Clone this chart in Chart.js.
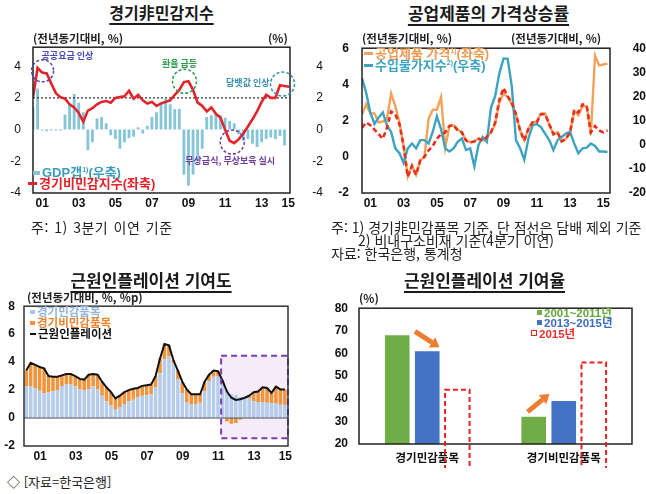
<!DOCTYPE html>
<html lang="ko">
<head>
<meta charset="utf-8">
<title>경기非민감지수</title>
<script src="https://cdn.jsdelivr.net/npm/chart.js@4.4.1/dist/chart.umd.min.js"></script>
<style>
html, body { margin: 0; padding: 0; background: #fff; }
body { position: relative; width: 646px; height: 494px; overflow: hidden; color: #111;
  font-family: "Noto Sans CJK KR", "Liberation Sans", sans-serif; }
canvas { position: absolute; }
.t { position: absolute; white-space: nowrap; line-height: 1; }
.title { font-size: 17px; font-weight: 700; text-align: center; color: #1a1a1a;
  text-decoration: underline; text-decoration-thickness: 1.5px; text-underline-offset: 4px; }
.unit { font-size: 11.5px; font-weight: 700; color: #222; }
.leg { font-size: 13px; font-weight: 700; font-family: "Liberation Sans", "Noto Sans CJK KR", sans-serif; }
.note { font-size: 14px; color: #222; }
.mk { display: inline-block; vertical-align: middle; margin-right: 2px; position: relative; top: -1px; }
sup { font-size: 7px; vertical-align: 5px; line-height: 0; }
</style>
</head>
<body>
<canvas id="c1" width="323" height="190" style="left:0;top:28px"></canvas>
<canvas id="c2" width="323" height="190" style="left:323px;top:28px"></canvas>
<canvas id="c3" width="323" height="175" style="left:0;top:290px"></canvas>
<canvas id="c4" width="323" height="178" style="left:323px;top:290px"></canvas>

<!-- 경기非민감지수 -->
<div class="t title" style="left:0;top:4px;width:323px;font-size:16px">경기非민감지수</div>
<div class="t unit" style="left:33px;top:33px">(전년동기대비, %)</div>
<div class="t unit" style="left:268px;top:33px">(%)</div>
<div class="t leg" style="left:33px;top:166px;color:#3a9dbf"><span class="mk" style="width:7px;height:4px;background:#86c5d8"></span>GDP갭<sup>1)</sup>(우축)</div>
<div class="t leg" style="left:28px;top:177px;color:#e3242b"><span class="mk" style="width:9px;height:2.5px;background:#e3242b"></span>경기비민감지수(좌축)</div>
<div class="t note" style="left:31px;top:220px;letter-spacing:0.5px;word-spacing:1px">주: 1) 3분기 이연 기준</div>

<!-- 공업제품의 가격상승률 -->
<div class="t title" style="left:327px;top:4px;width:323px">공업제품의 가격상승률</div>
<div class="t unit" style="left:362px;top:33px">(전년동기대비, %)</div>
<div class="t unit" style="left:511px;top:33px">(전년동기대비, %)</div>
<div class="t leg" style="left:364px;top:47px;color:#ef9a52"><span class="mk" style="width:9px;height:2.5px;background:#f4a15a"></span>공업제품 가격<sup>1)</sup>(좌축)</div>
<div class="t leg" style="left:364px;top:59px;color:#3ea3bf"><span class="mk" style="width:9px;height:2.5px;background:#3ea3bf"></span>수입물가지수<sup>2)</sup>(우축)</div>
<div class="t note" style="left:331px;top:220px">주: 1) 경기非민감품목 기준, 단 점선은 담배 제외 기준</div>
<div class="t note" style="left:358px;top:233px">2) 비내구소비재 기준(4분기 이연)</div>
<div class="t note" style="left:331px;top:246px">자료: 한국은행, 통계청</div>

<!-- 근원인플레이션 기여도 -->
<div class="t title" style="left:0;top:271px;width:302px">근원인플레이션 기여도</div>
<div class="t unit" style="left:27px;top:292px">(전년동기대비, %, %p)</div>
<div class="t leg" style="left:30px;top:307px;font-size:11.5px;color:#93b6e0"><span class="mk" style="width:5px;height:4px;background:#a9c6e8"></span>경기민감품목</div>
<div class="t leg" style="left:30px;top:318px;font-size:11.5px;color:#ea8430"><span class="mk" style="width:5px;height:4px;background:#f0953e"></span>경기비민감품목</div>
<div class="t leg" style="left:30px;top:329px;font-size:11.5px;color:#111"><span class="mk" style="width:6px;height:2px;background:#111"></span>근원인플레이션</div>
<div class="t note" style="left:7px;top:475px;font-size:13px">◇ [자료=한국은행]</div>

<!-- 근원인플레이션 기여율 -->
<div class="t title" style="left:323px;top:271px;width:323px">근원인플레이션 기여율</div>
<div class="t unit" style="left:359px;top:293px">(%)</div>
<div class="t leg" style="left:537px;top:308px;font-size:11.5px;color:#62a83a"><span class="mk" style="width:5px;height:5px;background:#70ad47"></span>2001~2011년</div>
<div class="t leg" style="left:537px;top:318px;font-size:11.5px;color:#3b6cc0"><span class="mk" style="width:5px;height:5px;background:#4472c4"></span>2013~2015년</div>
<div class="t leg" style="left:531px;top:328.5px;font-size:11.5px;color:#e8322b"><span class="mk" style="width:4px;height:4px;border:1.5px dashed #f02020"></span>2015년</div>

<script>
// ---- data ------------------------------------------------------------
const yearLabels = ['01', '03', '05', '07', '09', '11', '13', '15'];
const labelYears = [2001, 2003, 2005, 2007, 2009, 2011, 2013, 2015];

// 경기非민감지수, 분기 (2001.1Q~)
const p1Index = [2.0, 3.9, 3.6, 3.55, 2.9, 2.3, 2.05, 1.95, 1.6, 1.4,
  1.05, 0.5, 1.2, 1.35, 1.6, 1.75, 1.8, 1.7, 2.0, 2.05,
  2.1, 2.45, 1.95, 2.2, 1.85, 1.65, 1.75, 1.5, 1.65, 1.75,
  1.85, 2.2, 2.5, 3.0, 3.05, 2.5, 1.7, 1.5, 1.15, 1.4,
  1.0, 0.75, 0.0, -0.7, -0.85, -0.6, -0.25, 0.2, 0.65, 1.15,
  1.75, 2.2, 2.0, 2.0, 2.8, 2.75, 2.7];
const p1Gap = [1.45, 2.6, -0.05, -0.1, -0.05, -0.05, -0.05, 0.95, 1.6, 2.25,
  1.7, 1.1, -1.3, -0.8, 0.7, 0.8, 0.4, -0.35, -0.6, -1.2,
  -0.8, -0.55, -0.45, 0.15, -0.25, 0.25, 0.8, 1.1, 1.7, 1.95,
  1.6, 1.3, 1.3, -2.85, -3.55, -2.85, -2.0, -1.2, 0.8, 0.9,
  1.0, 0.9, 0.75, 0.55, 0.4, -0.3, -0.7, -0.6, -0.9, -1.1,
  -0.8, -0.6, -0.5, -0.6, -0.4, -1.0, null];
const p1Ref = 2;

// 공업제품의 가격상승률, 분기 (2001.1Q~)
const p2Goods = [2.35, 2.9, 2.4, 2.4, 1.9, 1.95, 2.1, 3.5, 2.8, 1.9,
  0.6, -1.1, -0.5, -1.0, -0.2, 0.0, 2.1, 2.6, 2.6, 3.3,
  0.5, 1.7, 1.75, 1.5, 1.35, 0.9, 0.8, 0.85, 1.0, 0.9,
  1.1, 1.35, 1.8, 3.0, 3.5, 3.3, 2.9, 2.35, 1.45, 0.9,
  1.55, 1.9, 1.95, 2.4, 2.4, 1.8, 1.25, 1.35, 0.85, 1.0,
  1.3, 2.5, 2.3, 2.8, 2.8, 1.25, 5.6, 5.05, 5.1, 5.15];
const p2GoodsExTobacco = [1.6, 1.9, 1.75, 1.5, 1.25, 1.0, 1.6, 2.5, 2.35, 1.8,
  0.6, -1.1, -0.5, -1.0, -0.2, 0.0, 0.35, 0.6, 1.0, 1.25,
  1.35, 1.7, 1.75, 1.45, 1.35, 0.9, 0.8, 0.85, 1.0, 0.9,
  1.1, 1.35, 1.9, 3.15, 3.8, 3.35, 3.0, 2.35, 1.45, 0.9,
  1.55, 1.9, 1.9, 2.35, 2.35, 1.8, 1.25, 1.35, 0.85, 1.0,
  1.35, 2.6, 2.45, 2.9, 2.8, 1.35, 1.7, 1.45, 1.35, 1.45];
const p2Import = [27.5, 21.5, 13.4, 8.6, 11.3, 13.4, 8.0, 5.3, -1.5, -3.5,
  -7.5, -1.5, 0.5, -1.5, 1.9, 1.9, 0.5, 5.3, 11.8, 6.4,
  -1.5, -2.8, -1.5, 1.2, 2.6, -2.2, -1.5, -8.9, -0.1, 3.2,
  1.2, 15.4, 20.1, 29.6, 35.7, 35.7, 24.2, 1.9, -1.5, -6.2,
  2.6, 8.0, 8.6, 7.3, 4.6, 1.9, -2.2, 1.9, 3.2, 4.6,
  5.3, 0.5, -3.5, -1.5, -1.2, 0.5, -0.5, -2.8, -2.8, -3.0];

// 근원인플레이션 기여도, 분기 (2000.3Q~)
const p3Sensitive = [2.25, 2.3, 2.15, 1.95, 1.75, 1.85, 1.9, 2.0, 2.3, 2.4,
  2.4, 2.25, 2.05, 2.0, 2.05, 2.25, 2.05, 1.6, 1.2, 0.9,
  0.6, 0.75, 1.0, 1.2, 1.3, 1.5, 1.6, 1.65, 1.7, 2.2,
  3.2, 4.2, 4.4, 3.9, 2.8, 1.8, 1.15, 0.95, 1.0, 1.1,
  1.9, 2.65, 2.95, 3.0, 2.5, 2.0, 1.7, 1.65, 1.5, 1.5,
  1.4, 1.2, 1.15, 1.15, 1.1, 1.05, 1.05, 0.95, 0.95];
const p3NonSensitive = [1.15, 1.65, 1.65, 1.7, 1.8, 1.15, 1.05, 0.95, 0.75, 0.75,
  0.75, 0.75, 0.75, 0.75, 1.05, 0.9, 1.05, 1.0, 1.0, 0.95,
  0.8, 0.85, 0.85, 0.8, 0.8, 0.65, 0.7, 0.7, 0.7, 0.8,
  1.05, 1.1, 0.8, 0.25, 0.6, 0.8, 0.9, 0.75, 0.7, 0.6,
  0.7, 0.45, 0.45, 0.35, 0.2, -0.25, -0.4, -0.35, -0.1, 0.0,
  0.2, 0.65, 0.75, 1.05, 1.05, 0.75, 1.2, 1.1, 1.1];
const p3Core = [3.4, 3.95, 3.8, 3.65, 3.55, 3.0, 2.95, 2.95, 3.05, 3.15,
  3.15, 3.0, 2.8, 2.75, 3.1, 3.15, 3.1, 2.6, 2.2, 1.85,
  1.4, 1.6, 1.85, 2.0, 2.1, 2.15, 2.3, 2.35, 2.4, 3.0,
  4.25, 5.3, 5.2, 4.15, 3.4, 2.6, 2.05, 1.7, 1.7, 1.7,
  2.6, 3.1, 3.4, 3.35, 2.7, 1.9, 1.45, 1.3, 1.35, 1.45,
  1.6, 1.85, 1.9, 2.2, 2.15, 1.8, 2.25, 2.05, 2.05];

// 근원인플레이션 기여율
const p4Items = ['경기민감품목', '경기비민감품목'];
const p4Early = [68, 32];   // 2001~2011년
const p4Recent = [61, 39];  // 2013~2015년
const p4Latest = [44, 56];  // 2015년

// ---- helpers ---------------------------------------------------------
const NUM_FONT = '"Liberation Sans", "Noto Sans CJK KR", sans-serif';
const KR_FONT = '"Noto Sans CJK KR", "Liberation Sans", sans-serif';
Chart.defaults.font.family = NUM_FONT;
Chart.defaults.color = '#111';
Chart.defaults.animation = false;
Chart.defaults.plugins.legend.display = false;
Chart.defaults.plugins.tooltip.enabled = false;

function quarterPos(start, n, mid) {
  return Array.from({ length: n }, (_, i) => start + (i + (mid ? 0.5 : 0)) / 4);
}
function points(xs, ys) {
  return ys.map((y, i) => ({ x: xs[i], y: y }));
}
const fixWidth = w => s => { s.width = w; };
const fixHeight = h => s => { s.height = h; };
const fixedTicks = vals => s => { s.ticks = vals.map(v => ({ value: v })); };

function yearAxis(min, max, tickPos, height, pad) {
  return {
    type: 'linear', min: min, max: max, offset: false, stacked: true,
    grid: { display: false, drawTicks: false }, border: { display: false },
    afterBuildTicks: fixedTicks(tickPos),
    afterFit: fixHeight(height),
    ticks: { autoSkip: false, maxRotation: 0, padding: pad, font: { size: 12, weight: 'bold' },
      callback: (v, i) => yearLabels[i] }
  };
}
function valueAxis(pos, min, max, ticks, width, pad, extra) {
  return Object.assign({
    position: pos, min: min, max: max,
    grid: { display: false, drawTicks: false }, border: { display: false },
    afterBuildTicks: fixedTicks(ticks),
    afterFit: fixWidth(width),
    ticks: { padding: pad, font: { size: 12, weight: 'bold' } }
  }, extra || {});
}

const framePlugin = {
  id: 'frame',
  afterDatasetsDraw(chart, args, opts) {
    const a = chart.chartArea, ctx = chart.ctx;
    ctx.save();
    ctx.strokeStyle = opts.color || '#222';
    ctx.lineWidth = opts.width || 1.5;
    ctx.setLineDash([]);
    ctx.strokeRect(a.left, a.top, a.right - a.left, a.bottom - a.top);
    ctx.restore();
  }
};

// ---- 1. 경기非민감지수 -------------------------------------------------
const p1X = quarterPos(2001, p1Index.length, false);
const p1Notes = [
  { text: '공공요금 인상', idx: 1, color: '#4a46b5', dx: 5, dy: 3, r: 11, align: 'left', tx: -1, ty: -15 },
  { text: '환율 급등', idx: 34, color: '#2f9a4c', dx: -4, dy: 0, r: 12, align: 'center', tx: -5, ty: -18 },
  { text: '무상급식, 무상보육 실시', idx: 44, color: '#6f3d9e', dx: -2, dy: -1, r: 12, align: 'center', tx: -2, ty: 18 },
  { text: '담뱃값 인상', idx: 55, color: '#3a8fae', dx: -2, dy: -2, r: 12, align: 'right', tx: -13, ty: -1 }
];
const p1NotesPlugin = {
  id: 'p1notes',
  afterDraw(chart) {
    const pts = chart.getDatasetMeta(0).data;
    const ctx = chart.ctx;
    ctx.save();
    ctx.font = 'bold 9px ' + KR_FONT;
    ctx.textBaseline = 'middle';
    p1Notes.forEach(n => {
      const p = pts[n.idx];
      const cx = p.x + n.dx, cy = p.y + n.dy;
      ctx.strokeStyle = n.color;
      ctx.lineWidth = 1.5;
      ctx.setLineDash([3, 2]);
      ctx.beginPath();
      ctx.arc(cx, cy, n.r, 0, Math.PI * 2);
      ctx.stroke();
      ctx.fillStyle = n.color;
      ctx.textAlign = n.align;
      ctx.fillText(n.text, cx + n.tx, cy + n.ty);
    });
    ctx.restore();
  }
};

new Chart(document.getElementById('c1'), {
  type: 'bar',
  data: {
    datasets: [
      { type: 'line', data: points(p1X, p1Index), borderColor: '#e3242b', borderWidth: 2.6,
        pointRadius: 0, tension: 0, yAxisID: 'y', order: 0 },
      { type: 'line', data: [{ x: 2001, y: p1Ref }, { x: 2015.05, y: p1Ref }], borderColor: '#333',
        borderWidth: 1.2, borderDash: [2, 2], pointRadius: 0, yAxisID: 'y', order: 1 },
      { type: 'bar', data: points(p1X, p1Gap), backgroundColor: '#86c5d8', barPercentage: 0.62,
        categoryPercentage: 1, yAxisID: 'y2', order: 2 }
    ]
  },
  options: {
    responsive: false,
    layout: { padding: { top: 15, left: 0, right: 0, bottom: 0 } },
    scales: {
      x: yearAxis(2001, 2015.05, labelYears.map(y => Math.min(y + 0.5, 2014.95)), 25, 3),
      y: valueAxis('left', -4, 5.2, [-4, -2, 0, 2, 4], 33, 12,
        { ticks: { padding: 12, font: { size: 12 } } }),
      y2: valueAxis('right', -4, 5.2, [-4, -2, 0, 2, 4], 33, 8,
        { ticks: { padding: 8, crossAlign: 'far', font: { size: 12 } } })
    },
    plugins: { frame: { color: '#222', width: 1.5 } }
  },
  plugins: [framePlugin, p1NotesPlugin]
});

// ---- 2. 공업제품의 가격상승률 --------------------------------------------
const p2X = quarterPos(2001, p2Goods.length, false);
new Chart(document.getElementById('c2'), {
  type: 'line',
  data: {
    datasets: [
      { data: points(p2X, p2GoodsExTobacco), borderColor: '#e8301e', borderWidth: 2.6,
        borderDash: [5, 3], pointRadius: 0, yAxisID: 'y', order: 0 },
      { data: points(p2X, p2Import), borderColor: '#3ea3bf', borderWidth: 2.4,
        pointRadius: 0, yAxisID: 'y2', order: 1 },
      { data: points(p2X, p2Goods), borderColor: '#f4a15a', borderWidth: 2.4,
        pointRadius: 0, yAxisID: 'y', order: 2 }
    ]
  },
  options: {
    responsive: false,
    layout: { padding: { top: 17, left: 0, right: 0, bottom: 0 } },
    scales: {
      x: yearAxis(2001, 2015.9, labelYears.map(y => y + 0.5), 25, 3),
      y: valueAxis('left', -2, 6, [-2, 0, 2, 4, 6], 39, 13),
      y2: valueAxis('right', -20, 40, [-20, -10, 0, 10, 20, 30, 40], 36, 1,
        { ticks: { padding: 1, crossAlign: 'far', font: { size: 12, weight: 'bold' } } })
    },
    plugins: { frame: { color: '#222', width: 1.5 } }
  },
  plugins: [framePlugin]
});

// ---- 3. 근원인플레이션 기여도 --------------------------------------------
const p3X = quarterPos(2000.5, p3Core.length, true);
const p3Box = { from: 2011.55, top: 4.45, bottom: -1.45 };
const p3BoxPlugin = {
  id: 'p3box',
  beforeDatasetsDraw(chart) {
    const { ctx, chartArea: a, scales } = chart;
    const x0 = scales.x.getPixelForValue(p3Box.from);
    const y0 = scales.y.getPixelForValue(p3Box.top), y1 = scales.y.getPixelForValue(p3Box.bottom);
    ctx.save();
    ctx.fillStyle = '#f4ecfa';
    ctx.fillRect(x0, y0, a.right - x0, y1 - y0);
    ctx.restore();
  },
  afterDatasetsDraw(chart) {
    const { ctx, chartArea: a, scales } = chart;
    const z = scales.y.getPixelForValue(0);
    ctx.save();
    ctx.strokeStyle = '#555';
    ctx.lineWidth = 1;
    ctx.beginPath();
    ctx.moveTo(a.left, z);
    ctx.lineTo(a.right, z);
    ctx.stroke();
    const x0 = scales.x.getPixelForValue(p3Box.from);
    const y0 = scales.y.getPixelForValue(p3Box.top), y1 = scales.y.getPixelForValue(p3Box.bottom);
    ctx.strokeStyle = '#7a3db0';
    ctx.lineWidth = 2;
    ctx.setLineDash([6, 4]);
    ctx.strokeRect(x0, y0, a.right - x0, y1 - y0);
    ctx.restore();
  }
};

new Chart(document.getElementById('c3'), {
  type: 'bar',
  data: {
    datasets: [
      { type: 'line', data: points(p3X, p3Core), borderColor: '#111', borderWidth: 2,
        pointRadius: 0, order: 0 },
      { type: 'bar', data: points(p3X, p3Sensitive), backgroundColor: '#b5cdea',
        barPercentage: 0.8, categoryPercentage: 1, order: 1 },
      { type: 'bar', data: points(p3X, p3NonSensitive), backgroundColor: '#f0953e',
        barPercentage: 0.8, categoryPercentage: 1, order: 1 }
    ]
  },
  options: {
    responsive: false,
    layout: { padding: { top: 15, left: 0, right: 35, bottom: 0 } },
    scales: {
      x: yearAxis(2000.5, 2015.3, labelYears.map(y => Math.min(y + 0.4, 2015.15)), 19, 3),
      y: valueAxis('left', -2, 8, [-2, 0, 2, 4, 6, 8], 24, 9, { stacked: true })
    },
    plugins: { frame: { color: '#333', width: 1.5 } }
  },
  plugins: [p3BoxPlugin, framePlugin]
});

// ---- 4. 근원인플레이션 기여율 --------------------------------------------
function drawArrow(ctx, x1, y1, x2, y2, color) {
  const ang = Math.atan2(y2 - y1, x2 - x1), head = 9, half = 6;
  const bx = x2 - head * Math.cos(ang), by = y2 - head * Math.sin(ang);
  ctx.strokeStyle = color;
  ctx.fillStyle = color;
  ctx.lineWidth = 5;
  ctx.beginPath();
  ctx.moveTo(x1, y1);
  ctx.lineTo(bx, by);
  ctx.stroke();
  ctx.beginPath();
  ctx.moveTo(x2, y2);
  ctx.lineTo(bx + half * Math.sin(ang), by - half * Math.cos(ang));
  ctx.lineTo(bx - half * Math.sin(ang), by + half * Math.cos(ang));
  ctx.closePath();
  ctx.fill();
}
const p4MarksPlugin = {
  id: 'p4marks',
  afterDatasetsDraw(chart) {
    const ctx = chart.ctx;
    ctx.save();
    chart.data.datasets.forEach((ds, di) => {
      if (!ds.dashedOutline) return;
      chart.getDatasetMeta(di).data.forEach(el => {
        const p = el.getProps(['x', 'y', 'base', 'width'], true);
        ctx.strokeStyle = ds.dashedOutline;
        ctx.lineWidth = 2;
        ctx.setLineDash([5, 3]);
        ctx.strokeRect(p.x - p.width / 2, p.y, p.width, p.base - p.y);
      });
    });
    ctx.setLineDash([]);
    const g = chart.getDatasetMeta(0).data, b = chart.getDatasetMeta(1).data;
    const w = b[0].width;
    drawArrow(ctx, b[0].x - w / 2, g[0].y - 4, b[0].x + w / 2, b[0].y - 4, '#ed7d31');
    drawArrow(ctx, g[1].x - w / 4, g[1].y - 5, b[1].x - w / 2 - 2, b[1].y - 7, '#ed7d31');
    ctx.restore();
  }
};

new Chart(document.getElementById('c4'), {
  type: 'bar',
  data: {
    labels: p4Items,
    datasets: [
      { label: '2001~2011년', data: p4Early, backgroundColor: '#70ad47' },
      { label: '2013~2015년', data: p4Recent, backgroundColor: '#4472c4' },
      { label: '2015년', data: p4Latest, backgroundColor: 'rgba(0,0,0,0)', borderWidth: 0,
        dashedOutline: '#f02020' }
    ]
  },
  options: {
    responsive: false,
    categoryPercentage: 0.66,
    barPercentage: 0.82,
    layout: { padding: { top: 16, left: 0, right: 14, bottom: 0 } },
    scales: {
      x: {
        grid: { display: false, drawTicks: false }, border: { display: false },
        afterFit: fixHeight(24),
        ticks: { padding: 7, font: { size: 11.5, weight: 'bold', family: KR_FONT } }
      },
      y: valueAxis('left', 20, 80, [20, 30, 40, 50, 60, 70, 80], 36, 11)
    },
    plugins: { frame: { color: '#222', width: 1.5 } }
  },
  plugins: [framePlugin, p4MarksPlugin]
});
</script>
</body>
</html>
